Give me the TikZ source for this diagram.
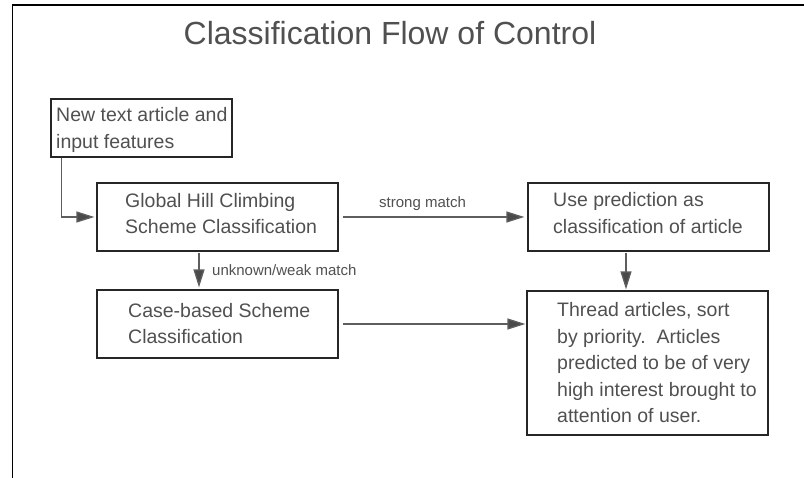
\documentclass[tikz,border=0pt]{standalone}
\usepackage{fontspec}
\setmainfont{Liberation Sans}
\usetikzlibrary{arrows.meta}
\definecolor{txt}{HTML}{505050}
\definecolor{ln}{HTML}{5E5E5E}
\definecolor{tip}{HTML}{4A4A4A}
\begin{document}
\begin{tikzpicture}[x=1pt,y=-1pt,
  box/.style={draw=black!85,line width=1.2pt,inner sep=0pt},
  lbl/.style={text=txt,font=\fontsize{19.5}{26.5}\selectfont,align=left,inner sep=0pt,anchor=base west},
  small/.style={text=txt,font=\fontsize{15}{18}\selectfont,inner sep=0pt,anchor=base west},
  conn/.style={draw=ln,line width=1.3pt,-{Triangle[length=18pt,width=11pt,fill=tip]},color=tip}
]
\useasboundingbox (0,0) rectangle (804,478);
\draw[line width=1.2pt] (12.5,478) -- (12.5,5) -- (804,5);

\node[text=txt,font=\fontsize{32}{38}\selectfont,inner sep=0pt,anchor=base] (title) at (390,45) {Classification Flow of Control};

\node[box,minimum width=181pt,minimum height=58pt] (b1) at (141.5,128) {};
\node[box,minimum width=241pt,minimum height=68pt] (b2) at (217.5,217) {};
\node[box,minimum width=241pt,minimum height=68pt] (b3) at (217.5,324) {};
\node[box,minimum width=241pt,minimum height=68pt] (b4) at (648.5,217) {};
\node[box,minimum width=241pt,minimum height=144pt] (b5) at (647.5,363) {};

% base anchor of a multi-line node = baseline of its last line
\node[lbl] (t1) at (56,148.5) {New text article and\\input features};
\node[lbl] (t2) at (125,234) {Global Hill Climbing\\Scheme Classification};
\node[lbl] (t3) at (128,344) {Case-based Scheme\\Classification};
\node[lbl] (t4) at (553,233.5) {Use prediction as\\classification of article};
\node[lbl] (t5) at (557,423) {Thread articles, sort\\by priority.\ \ Articles\\predicted to be of very\\high interest brought to\\attention of user.};

\draw[conn,draw=ln,shorten >=2pt] ([xshift=11pt]b1.south west) |- (b2.west);
\draw[conn,draw=ln,shorten <=4pt,shorten >=3pt] (b2.east) -- (b4.west);
\draw[conn,draw=ln,shorten <=4pt,shorten >=1pt] (b3.east) -- (b5.west |- b3.east);
\draw[conn,draw=ln,shorten <=1pt,shorten >=2pt] ([xshift=-18.5pt]b2.south) -- ([xshift=-18.5pt]b2.south |- b3.north);
\draw[conn,draw=ln,shorten <=1pt,shorten >=1pt] ([xshift=-22.5pt]b4.south) -- ([xshift=-22.5pt]b4.south |- b5.north);

\node[small] (l1) at (379,208) {strong match};
\node[small] (l2) at (212,276) {unknown/weak match};
\end{tikzpicture}
\end{document}
